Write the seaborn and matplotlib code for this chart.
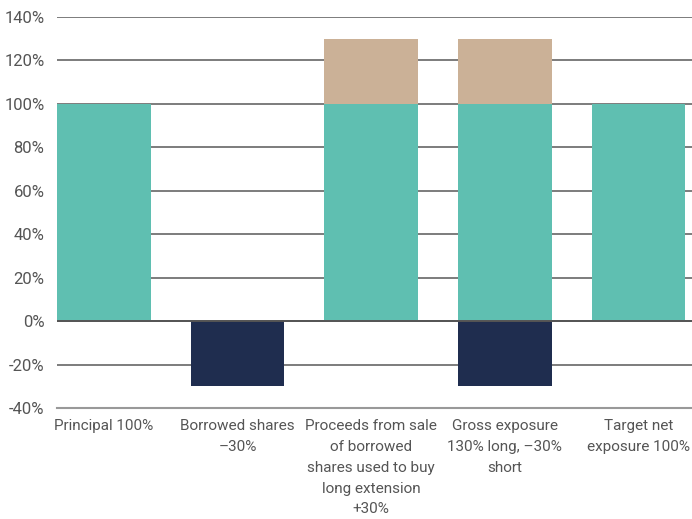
import matplotlib
matplotlib.use('Agg')
import matplotlib.pyplot as plt
import seaborn as sns

# Data
categories = [
    'Principal 100%',
    'Borrowed shares\n\u201330%',
    'Proceeds from sale\nof borrowed\nshares used to buy\nlong extension\n+30%',
    'Gross exposure\n130% long, \u201330%\nshort',
    'Target net\nexposure 100%',
]
principal = [100, 0, 100, 100, 100]
extension = [0, 0, 30, 30, 0]
short = [0, -30, 0, -30, 0]
yticks = [-40, -20, 0, 20, 40, 60, 80, 100, 120, 140]

teal = '#5fbfb1'
tan = '#cbb197'
navy = '#1f2d4f'

sns.set_style('white')
plt.rcParams['font.family'] = ['Roboto', 'DejaVu Sans']

fig = plt.figure(figsize=(6.92, 5.19), dpi=100)
ax = fig.add_axes([57 / 692, 1 - 408 / 519, 1 - 57 / 692, (408 - 17) / 519])

# grid lines behind bars
for t in yticks[1:]:
    ax.axhline(t, color='#666666', lw=1.2, zorder=0)

bar_kw = dict(width=0.7, saturation=1, linewidth=0, ax=ax, zorder=2)
sns.barplot(x=categories, y=principal, color=teal, **bar_kw)
sns.barplot(x=categories, y=extension, bottom=principal, color=tan, **bar_kw)
sns.barplot(x=categories, y=short, color=navy, **bar_kw)

ax.axhline(0, color='#555555', lw=1.4, zorder=3)

ax.set_ylim(-40, 140)
ax.set_xlim(-0.35, 4.4)
ax.set_yticks(yticks)
ax.set_yticklabels([f'{t}%' for t in yticks], fontsize=12, color='#555555')
ax.set_xticks(range(len(categories)))
ax.set_xticklabels(categories, fontsize=11, color='#555555', linespacing=1.62, va='top')
ax.tick_params(axis='both', length=0)
ax.tick_params(axis='y', pad=9)
ax.tick_params(axis='x', pad=8)

for s in ['top', 'right', 'left']:
    ax.spines[s].set_visible(False)
ax.spines['bottom'].set_color('#999999')
ax.spines['bottom'].set_linewidth(1.5)

plt.savefig('out.png', dpi=100)
